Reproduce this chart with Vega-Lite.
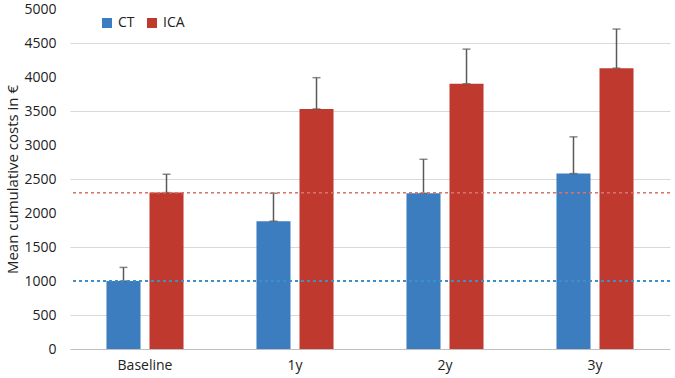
{
  "$schema": "https://vega.github.io/schema/vega-lite/v6.json",
  "width": 600,
  "height": 340,
  "autosize": {"type": "none"},
  "padding": {"left": 70, "top": 9, "right": 5, "bottom": 29},
  "background": "white",
  "config": {
    "view": {"stroke": null},
    "font": "Open Sans",
    "axisY": {
      "labelOverlap": false,
      "labelFontSize": 14,
      "labelColor": "#222222",
      "labelPadding": 14,
      "ticks": false,
      "domain": false,
      "gridColor": "#d9d9d9",
      "format": "d",
      "titleFontSize": 15,
      "titleFontWeight": "normal",
      "titleColor": "#222222"
    }
  },
  "data": {
    "values": [
      {"period": "Baseline", "group": "CT", "value": 1000, "upper": 1200},
      {"period": "Baseline", "group": "ICA", "value": 2300, "upper": 2570},
      {"period": "1y", "group": "CT", "value": 1880, "upper": 2290},
      {"period": "1y", "group": "ICA", "value": 3530, "upper": 3990},
      {"period": "2y", "group": "CT", "value": 2290, "upper": 2790},
      {"period": "2y", "group": "ICA", "value": 3900, "upper": 4410},
      {"period": "3y", "group": "CT", "value": 2580, "upper": 3120},
      {"period": "3y", "group": "ICA", "value": 4130, "upper": 4705}
    ]
  },
  "encoding": {
    "x": {
      "field": "period",
      "type": "nominal",
      "sort": ["Baseline", "1y", "2y", "3y"],
      "scale": {"paddingInner": 0, "paddingOuter": 0},
      "axis": {
        "title": null,
        "labelAngle": 0,
        "labelFontSize": 14,
        "labelColor": "#222222",
        "labelPadding": 9,
        "ticks": false,
        "domainColor": "#bfbfbf",
        "grid": false
      }
    },
    "xOffset": {
      "field": "group",
      "type": "nominal",
      "scale": {"paddingInner": 0.209, "paddingOuter": 0.848}
    }
  },
  "resolve": {"axis": {"y": "independent"}},
  "layer": [
    {
      "mark": {"type": "tick", "opacity": 0},
      "encoding": {
        "y": {
          "field": "value",
          "type": "quantitative",
          "scale": {"domain": [0, 5000], "nice": false},
          "axis": {
            "orient": "left",
            "title": null,
            "labelOverlap": false,
            "values": [500, 1500, 2500, 3500, 4500]
          }
        }
      }
    },
    {
      "encoding": {
        "y": {
          "field": "value",
          "type": "quantitative",
          "scale": {"domain": [0, 5000], "nice": false},
          "axis": {
            "orient": "left",
            "title": "Mean cumulative costs in €",
            "titleX": -58,
            "titleY": 170,
            "titleBaseline": "middle",
            "titleAlign": "center",
            "labelOverlap": false,
            "values": [0, 1000, 2000, 3000, 4000, 5000]
          }
        }
      },
      "layer": [
        {
          "mark": {"type": "bar"},
          "encoding": {
            "color": {
              "field": "group",
              "type": "nominal",
              "scale": {"domain": ["CT", "ICA"], "range": ["#3b7dbe", "#c0392e"]},
              "legend": {
                "title": null,
                "orient": "none",
                "legendX": 30,
                "legendY": 7,
                "direction": "horizontal",
                "symbolType": "square",
                "symbolSize": 100,
                "symbolStrokeWidth": 0,
                "labelFontSize": 14,
                "labelColor": "#222222",
                "columnPadding": 10
              }
            }
          }
        },
        {
          "mark": {"type": "rule", "color": "#595959", "strokeWidth": 1.5},
          "encoding": {
            "y2": {"field": "upper"}
          }
        },
        {
          "mark": {"type": "tick", "color": "#595959", "thickness": 1.5, "size": 8, "orient": "horizontal"},
          "encoding": {}
        },
        {
          "mark": {"type": "tick", "color": "#595959", "thickness": 1.5, "size": 8, "orient": "horizontal"},
          "encoding": {
            "y": {
              "field": "upper",
              "type": "quantitative",
              "axis": {
                "orient": "left",
                "title": "Mean cumulative costs in €",
                "titleX": -58,
                "titleY": 170,
                "titleBaseline": "middle",
                "titleAlign": "center",
                "labelOverlap": false,
                "values": [0, 1000, 2000, 3000, 4000, 5000]
              }
            }
          }
        },
        {
          "mark": {"type": "rule", "color": "#3f8fc9", "strokeDash": [3, 3], "strokeWidth": 1},
          "encoding": {
            "y": {
              "datum": 1000,
              "type": "quantitative",
              "axis": {
                "orient": "left",
                "title": "Mean cumulative costs in €",
                "titleX": -58,
                "titleY": 170,
                "titleBaseline": "middle",
                "titleAlign": "center",
                "labelOverlap": false,
                "values": [0, 1000, 2000, 3000, 4000, 5000]
              }
            },
            "x": null,
            "xOffset": null
          }
        },
        {
          "mark": {"type": "rule", "color": "#d9736e", "strokeDash": [3, 3], "strokeWidth": 1},
          "encoding": {
            "y": {
              "datum": 2300,
              "type": "quantitative",
              "axis": {
                "orient": "left",
                "title": "Mean cumulative costs in €",
                "titleX": -58,
                "titleY": 170,
                "titleBaseline": "middle",
                "titleAlign": "center",
                "labelOverlap": false,
                "values": [0, 1000, 2000, 3000, 4000, 5000]
              }
            },
            "x": null,
            "xOffset": null
          }
        }
      ]
    }
  ]
}
